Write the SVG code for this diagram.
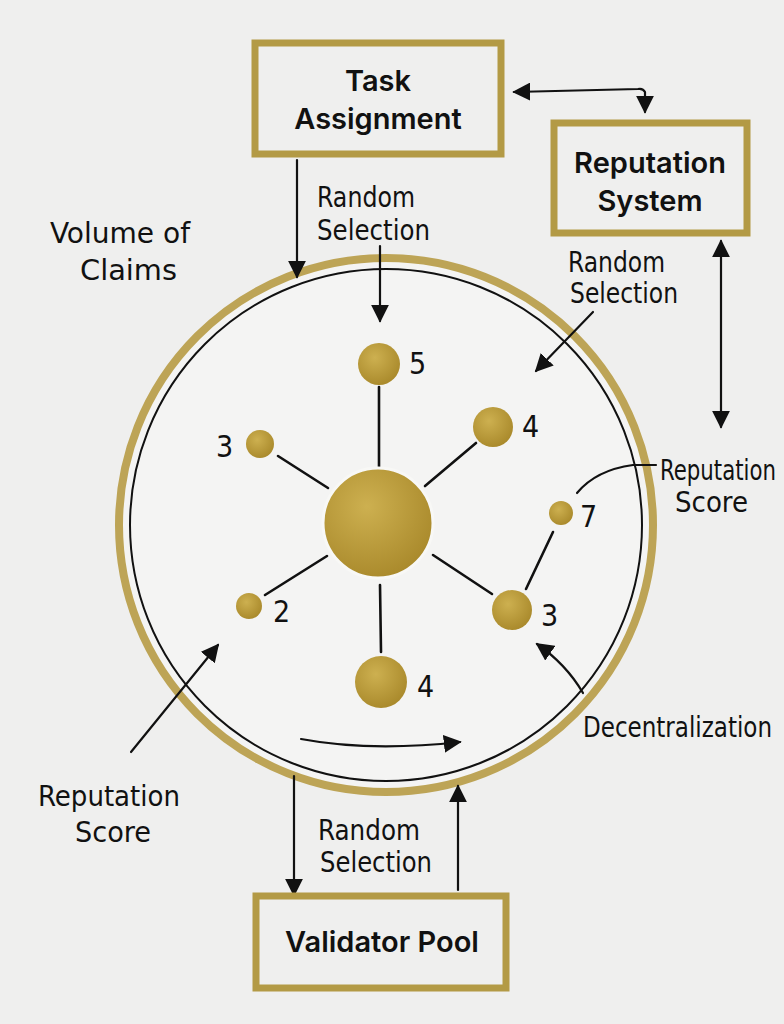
<svg xmlns="http://www.w3.org/2000/svg" width="784" height="1024" viewBox="0 0 784 1024">
<defs>
<style>
.box{fill:none;stroke:#b39a45;stroke-width:7}
.bt{font-family:Inter,"Liberation Sans",sans-serif;font-weight:600;font-size:29px;fill:#111;text-anchor:middle}
.hw{font-family:"Liberation Sans Narrow","DejaVu Sans Condensed","Liberation Sans",sans-serif;font-size:29px;fill:#111}
.num{font-family:"Liberation Sans Narrow","DejaVu Sans Condensed","Liberation Sans",sans-serif;font-size:30px;fill:#111}
.ln{fill:none;stroke:#111;stroke-width:2.2;stroke-linecap:round}
.spoke{fill:none;stroke:#111;stroke-width:2.6;stroke-linecap:round}
</style>
<radialGradient id="gold" cx="40%" cy="35%" r="70%">
<stop offset="0" stop-color="#cdb050"/>
<stop offset="1" stop-color="#a8882a"/>
</radialGradient>
<marker id="ahb" viewBox="0 0 10 10" refX="9" refY="5" markerWidth="18" markerHeight="18" markerUnits="userSpaceOnUse" orient="auto-start-reverse">
<path d="M0,0 L10,5 L0,10 Z" fill="#111"/>
</marker>
</defs>
<rect width="784" height="1024" fill="#efefee"/>

<g id="ring">
<circle cx="386" cy="525" r="267" fill="#f4f4f3" stroke="#bda456" stroke-width="8"/>
<circle cx="386" cy="525" r="256" fill="none" stroke="#111" stroke-width="2"/>
</g>

<g id="connectors">
<line class="ln" x1="297" y1="160" x2="297" y2="277" marker-end="url(#ahb)"/>
<line class="ln" x1="380" y1="246" x2="380" y2="321" marker-end="url(#ahb)"/>
<path class="ln" d="M645 112 L645 92 Q643 88 638 89 L514 92" marker-start="url(#ahb)" marker-end="url(#ahb)"/>
<line class="ln" x1="721" y1="241" x2="721" y2="427" marker-start="url(#ahb)" marker-end="url(#ahb)"/>
<line class="ln" x1="593" y1="312" x2="536" y2="371" marker-end="url(#ahb)"/>
<path class="ln" d="M656 465 L633 465 Q596 470 577 493"/>
<path class="ln" d="M583 693 Q566 664 537 644" marker-end="url(#ahb)"/>
<path class="ln" d="M301 739 Q370 752 460 742" marker-end="url(#ahb)"/>
<line class="ln" x1="131" y1="752" x2="218" y2="645" marker-end="url(#ahb)"/>
<line class="ln" x1="294" y1="776" x2="294" y2="895" marker-end="url(#ahb)"/>
<line class="ln" x1="458" y1="890" x2="458" y2="786" marker-end="url(#ahb)"/>
<line class="spoke" x1="379" y1="467" x2="379" y2="387"/>
<line class="spoke" x1="425" y1="486" x2="476" y2="443"/>
<line class="spoke" x1="278" y1="456" x2="328" y2="488"/>
<line class="spoke" x1="265" y1="595" x2="327" y2="556"/>
<line class="spoke" x1="380" y1="585" x2="381" y2="652"/>
<line class="spoke" x1="433" y1="555" x2="492" y2="594"/>
<line class="spoke" x1="553" y1="532" x2="526" y2="589"/>
</g>

<g id="task-assignment">
<rect class="box" x="255" y="43" width="246" height="111"/>
<text class="bt" x="378" y="91">Task</text>
<text class="bt" x="378" y="129">Assignment</text>
</g>

<g id="reputation-system">
<rect class="box" x="554" y="123" width="193" height="110"/>
<text class="bt" x="650" y="173">Reputation</text>
<text class="bt" x="650" y="211">System</text>
</g>

<g id="validator-pool">
<rect class="box" x="256" y="896" width="250" height="92"/>
<text class="bt" x="382" y="952">Validator Pool</text>
</g>

<g id="center-node"><circle cx="378" cy="523" r="55" fill="url(#gold)" stroke="#f8f8f6" stroke-width="3"/></g>
<g id="node-5"><circle cx="379" cy="364" r="21" fill="url(#gold)"/><text class="num" x="409" y="374">5</text></g>
<g id="node-4a"><circle cx="493" cy="427" r="20" fill="url(#gold)"/><text class="num" x="522" y="437">4</text></g>
<g id="node-3a"><circle cx="260" cy="444" r="14" fill="url(#gold)"/><text class="num" x="216" y="457">3</text></g>
<g id="node-7"><circle cx="561" cy="513" r="12" fill="url(#gold)"/><text class="num" x="580" y="527">7</text></g>
<g id="node-2"><circle cx="249" cy="606" r="13" fill="url(#gold)"/><text class="num" x="273" y="622">2</text></g>
<g id="node-3b"><circle cx="512" cy="610" r="20" fill="url(#gold)"/><text class="num" x="541" y="626">3</text></g>
<g id="node-4b"><circle cx="381" cy="682" r="26" fill="url(#gold)"/><text class="num" x="417" y="697">4</text></g>

<g id="labels">
<text class="hw" x="50" y="243" textLength="140" lengthAdjust="spacingAndGlyphs">Volume of</text>
<text class="hw" x="80" y="280" textLength="97" lengthAdjust="spacingAndGlyphs">Claims</text>
<text class="hw" x="317" y="207" textLength="98" lengthAdjust="spacingAndGlyphs">Random</text>
<text class="hw" x="317" y="240" textLength="113" lengthAdjust="spacingAndGlyphs">Selection</text>
<text class="hw" x="568" y="272" textLength="97" lengthAdjust="spacingAndGlyphs">Random</text>
<text class="hw" x="570" y="303" textLength="108" lengthAdjust="spacingAndGlyphs">Selection</text>
<text class="hw" x="660" y="480" textLength="116" lengthAdjust="spacingAndGlyphs">Reputation</text>
<text class="hw" x="675" y="512" textLength="73" lengthAdjust="spacingAndGlyphs">Score</text>
<text class="hw" x="583" y="737" textLength="189" lengthAdjust="spacingAndGlyphs">Decentralization</text>
<text class="hw" x="38" y="806" textLength="142" lengthAdjust="spacingAndGlyphs">Reputation</text>
<text class="hw" x="75" y="842" textLength="76" lengthAdjust="spacingAndGlyphs">Score</text>
<text class="hw" x="318" y="840" textLength="102" lengthAdjust="spacingAndGlyphs">Random</text>
<text class="hw" x="320" y="872" textLength="112" lengthAdjust="spacingAndGlyphs">Selection</text>
</g>
</svg>
